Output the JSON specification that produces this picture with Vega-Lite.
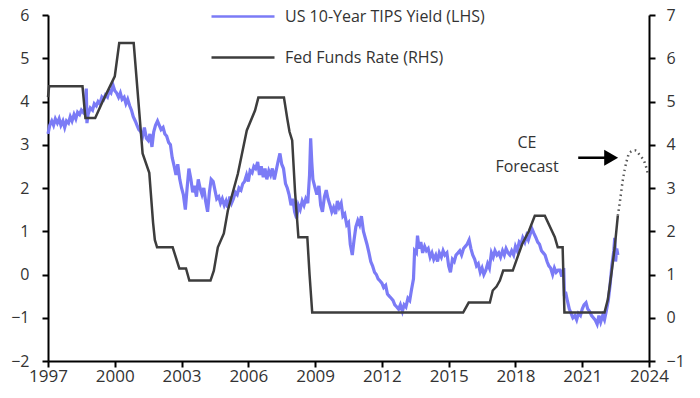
{
  "$schema": "https://vega.github.io/schema/vega-lite/v6.json",
  "width": 601,
  "height": 346,
  "autosize": {"type": "none"},
  "padding": {"left": 48, "top": 15, "right": 51, "bottom": 37},
  "background": "white",
  "config": {
    "font": "Open Sans",
    "view": {"stroke": null},
    "axis": {
      "grid": false,
      "domainColor": "black",
      "domainWidth": 2,
      "tickColor": "black",
      "tickWidth": 2,
      "tickSize": 6,
      "labelColor": "#333333",
      "labelFont": "Open Sans",
      "title": null
    },
    "legend": {"padding": 0}
  },
  "datasets": {
    "tips": [
      {"t":1997.00,"v":3.25},{"t":1997.08,"v":3.45},{"t":1997.17,"v":3.55},{"t":1997.25,"v":3.45},{"t":1997.33,"v":3.6},{"t":1997.42,"v":3.5},{"t":1997.5,"v":3.6},{"t":1997.58,"v":3.45},{"t":1997.67,"v":3.55},{"t":1997.75,"v":3.4},{"t":1997.83,"v":3.55},{"t":1997.92,"v":3.5},
      {"t":1998.0,"v":3.65},{"t":1998.08,"v":3.55},{"t":1998.17,"v":3.7},{"t":1998.25,"v":3.6},{"t":1998.33,"v":3.75},{"t":1998.42,"v":3.7},{"t":1998.5,"v":3.8},{"t":1998.58,"v":3.75},{"t":1998.67,"v":3.85},{"t":1998.72,"v":4.3},{"t":1998.75,"v":3.5},{"t":1998.8,"v":3.7},{"t":1998.9,"v":3.85},
      {"t":1999.0,"v":3.8},{"t":1999.08,"v":3.95},{"t":1999.17,"v":3.9},{"t":1999.25,"v":4.0},{"t":1999.33,"v":3.95},{"t":1999.42,"v":4.1},{"t":1999.5,"v":4.05},{"t":1999.58,"v":4.15},{"t":1999.67,"v":4.1},{"t":1999.75,"v":4.25},{"t":1999.83,"v":4.2},{"t":1999.92,"v":4.38},
      {"t":2000.0,"v":4.25},{"t":2000.08,"v":4.2},{"t":2000.17,"v":4.1},{"t":2000.25,"v":4.2},{"t":2000.33,"v":4.05},{"t":2000.42,"v":4.1},{"t":2000.5,"v":3.95},{"t":2000.58,"v":4.05},{"t":2000.67,"v":3.9},{"t":2000.75,"v":3.8},{"t":2000.83,"v":3.65},{"t":2000.92,"v":3.55},
      {"t":2001.0,"v":3.45},{"t":2001.08,"v":3.35},{"t":2001.17,"v":3.3},{"t":2001.25,"v":3.2},{"t":2001.33,"v":3.4},{"t":2001.42,"v":3.15},{"t":2001.5,"v":3.1},{"t":2001.58,"v":3.25},{"t":2001.67,"v":2.95},{"t":2001.75,"v":3.3},{"t":2001.83,"v":3.45},{"t":2001.92,"v":3.55},
      {"t":2002.0,"v":3.45},{"t":2002.08,"v":3.35},{"t":2002.17,"v":3.4},{"t":2002.25,"v":3.25},{"t":2002.33,"v":3.2},{"t":2002.42,"v":3.05},{"t":2002.5,"v":3.0},{"t":2002.58,"v":2.7},{"t":2002.67,"v":2.5},{"t":2002.75,"v":2.3},{"t":2002.83,"v":2.55},{"t":2002.92,"v":2.2},
      {"t":2003.0,"v":2.0},{"t":2003.08,"v":1.85},{"t":2003.17,"v":1.5},{"t":2003.25,"v":2.0},{"t":2003.33,"v":2.45},{"t":2003.42,"v":2.2},{"t":2003.5,"v":1.9},{"t":2003.58,"v":2.05},{"t":2003.67,"v":1.8},{"t":2003.75,"v":2.2},{"t":2003.83,"v":2.0},{"t":2003.92,"v":1.85},
      {"t":2004.0,"v":2.0},{"t":2004.08,"v":1.7},{"t":2004.17,"v":1.45},{"t":2004.25,"v":1.9},{"t":2004.33,"v":2.2},{"t":2004.42,"v":2.15},{"t":2004.5,"v":1.95},{"t":2004.58,"v":1.75},{"t":2004.67,"v":1.8},{"t":2004.75,"v":1.65},{"t":2004.83,"v":1.75},{"t":2004.92,"v":1.6},
      {"t":2005.0,"v":1.7},{"t":2005.08,"v":1.55},{"t":2005.17,"v":1.8},{"t":2005.25,"v":1.65},{"t":2005.33,"v":1.75},{"t":2005.42,"v":1.9},{"t":2005.5,"v":1.85},{"t":2005.58,"v":2.0},{"t":2005.67,"v":1.95},{"t":2005.75,"v":2.1},{"t":2005.83,"v":2.15},{"t":2005.92,"v":2.3},
      {"t":2006.0,"v":2.15},{"t":2006.08,"v":2.4},{"t":2006.17,"v":2.35},{"t":2006.25,"v":2.5},{"t":2006.33,"v":2.45},{"t":2006.42,"v":2.6},{"t":2006.5,"v":2.3},{"t":2006.58,"v":2.5},{"t":2006.67,"v":2.25},{"t":2006.75,"v":2.45},{"t":2006.83,"v":2.2},{"t":2006.92,"v":2.4},
      {"t":2007.0,"v":2.3},{"t":2007.08,"v":2.45},{"t":2007.17,"v":2.2},{"t":2007.25,"v":2.4},{"t":2007.33,"v":2.6},{"t":2007.42,"v":2.8},{"t":2007.5,"v":2.55},{"t":2007.58,"v":2.45},{"t":2007.67,"v":2.1},{"t":2007.75,"v":2.0},{"t":2007.83,"v":1.85},{"t":2007.92,"v":1.6},
      {"t":2008.0,"v":1.75},{"t":2008.08,"v":1.45},{"t":2008.17,"v":1.3},{"t":2008.25,"v":1.6},{"t":2008.33,"v":1.5},{"t":2008.42,"v":1.7},{"t":2008.5,"v":1.6},{"t":2008.58,"v":1.75},{"t":2008.67,"v":1.65},{"t":2008.75,"v":2.3},{"t":2008.8,"v":3.15},{"t":2008.85,"v":2.6},{"t":2008.9,"v":2.2},
      {"t":2009.0,"v":2.0},{"t":2009.08,"v":1.85},{"t":2009.17,"v":2.05},{"t":2009.25,"v":1.6},{"t":2009.33,"v":1.45},{"t":2009.42,"v":1.8},{"t":2009.5,"v":1.95},{"t":2009.58,"v":1.75},{"t":2009.67,"v":1.6},{"t":2009.75,"v":1.45},{"t":2009.83,"v":1.55},{"t":2009.92,"v":1.4},
      {"t":2010.0,"v":1.7},{"t":2010.08,"v":1.55},{"t":2010.17,"v":1.65},{"t":2010.25,"v":1.35},{"t":2010.33,"v":1.4},{"t":2010.42,"v":1.15},{"t":2010.5,"v":1.2},{"t":2010.58,"v":0.7},{"t":2010.67,"v":0.45},{"t":2010.75,"v":0.8},{"t":2010.83,"v":1.1},{"t":2010.92,"v":1.25},
      {"t":2011.0,"v":1.15},{"t":2011.08,"v":1.35},{"t":2011.17,"v":1.0},{"t":2011.25,"v":0.85},{"t":2011.33,"v":0.7},{"t":2011.42,"v":0.5},{"t":2011.5,"v":0.3},{"t":2011.58,"v":0.2},{"t":2011.67,"v":0.05},{"t":2011.75,"v":0.0},{"t":2011.83,"v":-0.1},{"t":2011.92,"v":-0.15},
      {"t":2012.0,"v":-0.2},{"t":2012.08,"v":-0.3},{"t":2012.17,"v":-0.25},{"t":2012.25,"v":-0.45},{"t":2012.33,"v":-0.5},{"t":2012.42,"v":-0.55},{"t":2012.5,"v":-0.6},{"t":2012.58,"v":-0.7},{"t":2012.67,"v":-0.75},{"t":2012.75,"v":-0.8},{"t":2012.83,"v":-0.7},{"t":2012.92,"v":-0.85},
      {"t":2013.0,"v":-0.7},{"t":2013.08,"v":-0.75},{"t":2013.17,"v":-0.55},{"t":2013.25,"v":-0.6},{"t":2013.33,"v":-0.35},{"t":2013.42,"v":-0.1},{"t":2013.47,"v":0.55},{"t":2013.55,"v":0.5},{"t":2013.6,"v":0.9},{"t":2013.67,"v":0.6},{"t":2013.75,"v":0.75},{"t":2013.83,"v":0.5},{"t":2013.92,"v":0.65},
      {"t":2014.0,"v":0.55},{"t":2014.08,"v":0.6},{"t":2014.17,"v":0.4},{"t":2014.25,"v":0.5},{"t":2014.33,"v":0.35},{"t":2014.42,"v":0.45},{"t":2014.5,"v":0.3},{"t":2014.58,"v":0.5},{"t":2014.67,"v":0.4},{"t":2014.75,"v":0.55},{"t":2014.83,"v":0.45},{"t":2014.92,"v":0.5},
      {"t":2015.0,"v":0.2},{"t":2015.08,"v":0.05},{"t":2015.17,"v":0.35},{"t":2015.25,"v":0.3},{"t":2015.33,"v":0.45},{"t":2015.42,"v":0.5},{"t":2015.5,"v":0.55},{"t":2015.58,"v":0.45},{"t":2015.67,"v":0.6},{"t":2015.75,"v":0.65},{"t":2015.83,"v":0.7},{"t":2015.92,"v":0.8},
      {"t":2016.0,"v":0.6},{"t":2016.08,"v":0.45},{"t":2016.17,"v":0.35},{"t":2016.25,"v":0.2},{"t":2016.33,"v":0.25},{"t":2016.42,"v":0.05},{"t":2016.5,"v":0.15},{"t":2016.58,"v":0.0},{"t":2016.67,"v":0.1},{"t":2016.75,"v":0.25},{"t":2016.83,"v":0.15},{"t":2016.92,"v":0.5},
      {"t":2017.0,"v":0.4},{"t":2017.08,"v":0.55},{"t":2017.17,"v":0.45},{"t":2017.25,"v":0.5},{"t":2017.33,"v":0.4},{"t":2017.42,"v":0.55},{"t":2017.5,"v":0.45},{"t":2017.58,"v":0.6},{"t":2017.67,"v":0.5},{"t":2017.75,"v":0.45},{"t":2017.83,"v":0.55},{"t":2017.92,"v":0.45},
      {"t":2018.0,"v":0.65},{"t":2018.08,"v":0.55},{"t":2018.17,"v":0.75},{"t":2018.25,"v":0.7},{"t":2018.33,"v":0.85},{"t":2018.42,"v":0.75},{"t":2018.5,"v":0.9},{"t":2018.58,"v":0.8},{"t":2018.67,"v":0.95},{"t":2018.75,"v":1.05},{"t":2018.83,"v":0.95},{"t":2018.92,"v":0.85},
      {"t":2019.0,"v":0.75},{"t":2019.08,"v":0.7},{"t":2019.17,"v":0.55},{"t":2019.25,"v":0.5},{"t":2019.33,"v":0.45},{"t":2019.42,"v":0.3},{"t":2019.5,"v":0.2},{"t":2019.58,"v":0.15},{"t":2019.67,"v":0.0},{"t":2019.75,"v":0.15},{"t":2019.83,"v":0.05},{"t":2019.92,"v":0.1},
      {"t":2020.0,"v":0.1},{"t":2020.08,"v":-0.05},{"t":2020.17,"v":0.15},{"t":2020.2,"v":-0.5},{"t":2020.25,"v":-0.4},{"t":2020.33,"v":-0.6},{"t":2020.42,"v":-0.8},{"t":2020.5,"v":-0.9},{"t":2020.58,"v":-1.0},{"t":2020.67,"v":-0.95},{"t":2020.75,"v":-1.05},{"t":2020.83,"v":-0.9},{"t":2020.92,"v":-0.95},
      {"t":2021.0,"v":-0.8},{"t":2021.08,"v":-0.7},{"t":2021.17,"v":-0.65},{"t":2021.25,"v":-0.8},{"t":2021.33,"v":-0.85},{"t":2021.42,"v":-0.95},{"t":2021.5,"v":-1.0},{"t":2021.58,"v":-1.05},{"t":2021.67,"v":-1.15},{"t":2021.75,"v":-0.95},{"t":2021.83,"v":-1.1},{"t":2021.92,"v":-0.95},
      {"t":2022.0,"v":-1.05},{"t":2022.08,"v":-0.85},{"t":2022.17,"v":-0.6},{"t":2022.25,"v":-0.25},{"t":2022.33,"v":0.2},{"t":2022.42,"v":0.55},{"t":2022.46,"v":0.85},{"t":2022.5,"v":0.3},{"t":2022.55,"v":0.6},{"t":2022.6,"v":0.45}
    ],
    "fed": [
      {"t":1997.0,"v":5.1},{"t":1997.05,"v":5.35},{"t":1998.55,"v":5.35},{"t":1998.68,"v":4.62},{"t":1999.12,"v":4.62},{"t":1999.5,"v":5.05},{"t":2000.0,"v":5.58},{"t":2000.2,"v":6.35},{"t":2000.85,"v":6.35},{"t":2001.25,"v":3.8},{"t":2001.55,"v":3.35},{"t":2001.72,"v":2.2},{"t":2001.8,"v":1.8},{"t":2001.9,"v":1.63},{"t":2002.6,"v":1.63},{"t":2002.9,"v":1.14},{"t":2003.2,"v":1.14},{"t":2003.35,"v":0.86},{"t":2004.3,"v":0.86},{"t":2004.45,"v":1.09},{"t":2004.63,"v":1.63},{"t":2004.9,"v":1.95},{"t":2005.08,"v":2.48},{"t":2005.53,"v":3.33},{"t":2005.93,"v":4.33},{"t":2006.3,"v":4.79},{"t":2006.45,"v":5.09},{"t":2007.6,"v":5.09},{"t":2007.75,"v":4.6},{"t":2007.85,"v":4.3},{"t":2007.97,"v":4.1},{"t":2008.1,"v":2.9},{"t":2008.25,"v":1.86},{"t":2008.65,"v":1.86},{"t":2008.75,"v":1.0},{"t":2008.87,"v":0.12},{"t":2015.65,"v":0.12},{"t":2015.9,"v":0.35},{"t":2016.85,"v":0.35},{"t":2016.98,"v":0.63},{"t":2017.15,"v":0.72},{"t":2017.3,"v":0.86},{"t":2017.45,"v":1.09},{"t":2017.88,"v":1.09},{"t":2018.3,"v":1.7},{"t":2018.6,"v":2.0},{"t":2018.87,"v":2.36},{"t":2019.32,"v":2.36},{"t":2019.77,"v":1.86},{"t":2019.9,"v":1.63},{"t":2020.12,"v":1.63},{"t":2020.2,"v":0.12},{"t":2022.0,"v":0.12},{"t":2022.15,"v":0.42},{"t":2022.33,"v":1.09},{"t":2022.46,"v":1.63},{"t":2022.6,"v":2.36}
    ],
    "forecast": [
      {"t":2022.6,"v":2.36},{"t":2022.7,"v":2.71},{"t":2022.82,"v":3.17},{"t":2023.0,"v":3.63},{"t":2023.13,"v":3.82},{"t":2023.36,"v":3.87},{"t":2023.6,"v":3.75},{"t":2023.82,"v":3.57},{"t":2023.95,"v":3.33}
    ]
  },
  "encoding": {
    "x": {
      "field": "t",
      "type": "quantitative",
      "scale": {"domain": [1997, 2024], "nice": false, "zero": false},
      "axis": {"values": [1997, 2000, 2003, 2006, 2009, 2012, 2015, 2018, 2021, 2024], "format": "d", "labelFontSize": 17, "labelPadding": 1, "labelFlush": false}
    }
  },
  "layer": [
    {
      "layer": [
        {
          "data": {"name": "tips"},
          "transform": [{"calculate": "'US 10-Year TIPS Yield (LHS)'", "as": "series"}],
          "mark": {"type": "line", "strokeWidth": 3.2, "interpolate": "linear"},
          "encoding": {
            "y": {"field": "v", "type": "quantitative", "scale": {"domain": [-2, 6], "nice": false, "zero": false}, "axis": {"orient": "left", "values": [-2, -1, 0, 1, 2, 3, 4, 5, 6], "labelFontSize": 16, "labelPadding": 13}},
            "color": {
              "field": "series", "type": "nominal",
              "scale": {"domain": ["US 10-Year TIPS Yield (LHS)", "Fed Funds Rate (RHS)"], "range": ["#7b7bf6", "#3d3d3d"]},
              "legend": {"title": null, "orient": "none", "legendX": 162, "legendY": -31.5, "symbolType": "stroke", "symbolSize": 3969, "symbolStrokeWidth": 2.5, "labelFontSize": 16, "labelColor": "#333333", "labelOffset": 9, "rowPadding": 0, "direction": "vertical", "labelLimit": 400}
            }
          }
        },
        {
          "mark": {"type": "rule", "color": "black", "strokeWidth": 2},
          "encoding": {"y": {"datum": 0}, "x": {"datum": 1997}, "x2": {"datum": 2024}}
        },
        {
          "data": {"values": [{"t": 2018.52, "v": 3.03, "label": "CE"}, {"t": 2018.52, "v": 2.48, "label": "Forecast"}]},
          "mark": {"type": "text", "fontSize": 16, "color": "#333333", "align": "center", "baseline": "middle"},
          "encoding": {"y": {"field": "v", "type": "quantitative"}, "text": {"field": "label"}}
        },
        {
          "data": {"values": [{"t": 2020.82, "t2": 2022.05, "v": 2.7}]},
          "mark": {"type": "rule", "color": "black", "strokeWidth": 2.5},
          "encoding": {"x2": {"field": "t2"}, "y": {"field": "v", "type": "quantitative"}}
        },
        {
          "data": {"values": [{"t": 2022.3, "v": 2.7}]},
          "mark": {"type": "point", "shape": "triangle-right", "filled": true, "color": "black", "size": 260, "opacity": 1},
          "encoding": {"y": {"field": "v", "type": "quantitative"}}
        }
      ]
    },
    {
      "layer": [
        {
          "data": {"name": "fed"},
          "transform": [{"calculate": "'Fed Funds Rate (RHS)'", "as": "series"}],
          "mark": {"type": "line", "strokeWidth": 2.5},
          "encoding": {
            "y": {"field": "v", "type": "quantitative", "scale": {"domain": [-1, 7], "nice": false, "zero": false}, "axis": {"orient": "right", "values": [-1, 0, 1, 2, 3, 4, 5, 6, 7], "labelFontSize": 16, "labelPadding": 11}},
            "color": {"field": "series", "type": "nominal"}
          }
        },
        {
          "data": {"name": "forecast"},
          "mark": {"type": "line", "strokeWidth": 2.5, "color": "#555555", "strokeDash": [1.5, 3.5], "interpolate": "monotone"},
          "encoding": {"y": {"field": "v", "type": "quantitative"}}
        }
      ]
    }
  ],
  "resolve": {"scale": {"y": "independent"}}
}
